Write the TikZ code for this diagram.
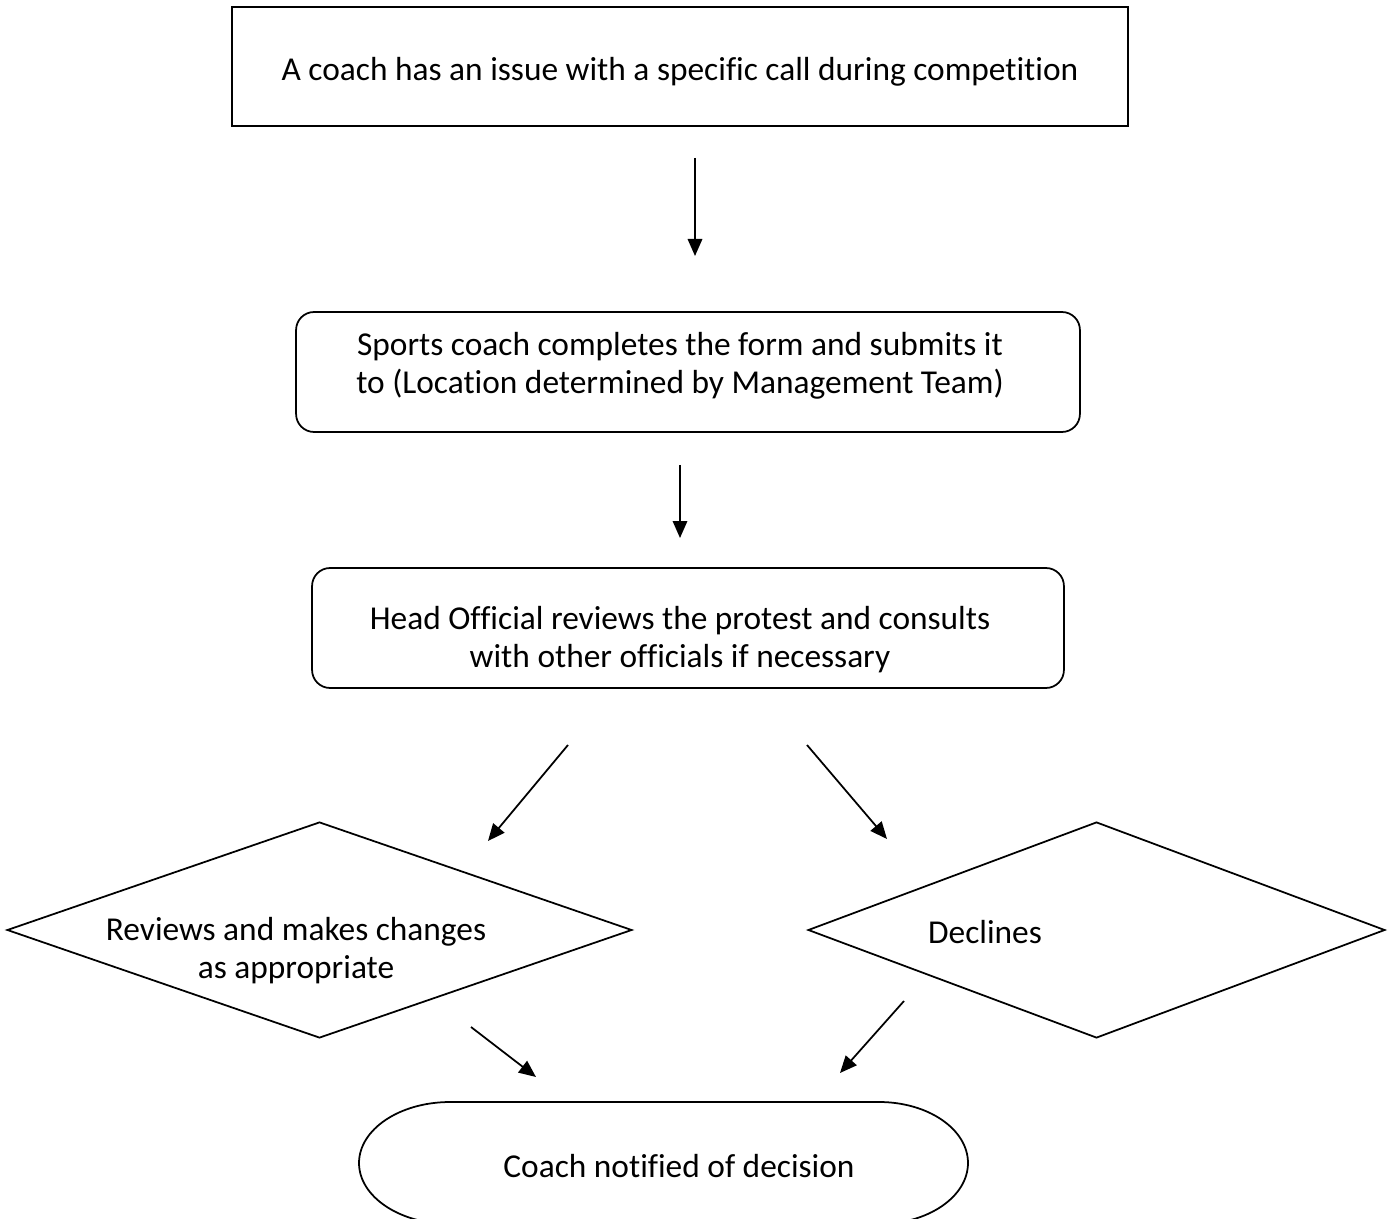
\documentclass[tikz,border=0pt]{standalone}
\usepackage{fontspec}
\setmainfont{Carlito}[Ligatures=NoCommon]
\usetikzlibrary{shapes.geometric,arrows.meta}
\begin{document}
\begin{tikzpicture}[x=0.02cm,y=-0.02cm,
  shapeline/.style={draw=black,line width=1pt,inner sep=0pt},
  txt/.style={font=\fontsize{19}{21.6}\selectfont,align=center,inner sep=0pt},
  arr/.style={line width=1pt,-{Triangle[length=0.34cm,width=0.29cm]}}]
\useasboundingbox (0,0) rectangle (1393,1219);
% shapes
\node[shapeline,rectangle,minimum width=17.92cm,minimum height=2.38cm] (b1) at (680,66.5) {};
\node[shapeline,rectangle,rounded corners=0.36cm,minimum width=15.68cm,minimum height=2.4cm] (b2) at (688,372) {};
\node[shapeline,rectangle,rounded corners=0.36cm,minimum width=15.04cm,minimum height=2.4cm] (b3) at (688,628) {};
\node[shapeline,diamond,minimum width=12.5cm,minimum height=4.32cm] (d1) at (319.5,930) {};
\node[shapeline,diamond,minimum width=11.54cm,minimum height=4.32cm] (d2) at (1096.5,930) {};
\node[inner sep=0pt,minimum width=12.18cm,minimum height=2.44cm] (e1) at (664,1163) {};
\draw[line width=1pt] (450,1102) -- (879,1102)
  arc[start angle=90,end angle=-90,x radius=1.78cm,y radius=1.22cm]
  -- (450,1224)
  arc[start angle=270,end angle=90,x radius=1.82cm,y radius=1.22cm] -- cycle;
% texts
\node[txt] (t1) at (680,72) {A coach has an issue with a specific call during competition};
\node[txt] (t2) at (680,366) {Sports coach completes the form and submits it\\to (Location determined by Management Team)};
\node[txt] (t3) at (680,639.5) {Head Official reviews the protest and consults\\with other officials if necessary};
\node[txt] (t4) at (296,951) {Reviews and makes changes\\as appropriate};
\node[txt] (t5) at (985,932) {Declines};
\node[txt] (t6) at (679,1166) {Coach notified of decision};
% arrows
\coordinate (a1s) at (695,158); \coordinate (a1e) at (695,256);
\coordinate (a2s) at (680,465); \coordinate (a2e) at (680,538);
\coordinate (a3s) at (568,745); \coordinate (a3e) at (488,841);
\coordinate (a4s) at (807,745); \coordinate (a4e) at (887,839);
\coordinate (a5s) at (471,1027); \coordinate (a5e) at (536,1077);
\coordinate (a6s) at (904,1001); \coordinate (a6e) at (840,1073);
\draw[arr] (a1s) -- (a1e);
\draw[arr] (a2s) -- (a2e);
\draw[arr] (a3s) -- (a3e);
\draw[arr] (a4s) -- (a4e);
\draw[arr] (a5s) -- (a5e);
\draw[arr] (a6s) -- (a6e);
\end{tikzpicture}
\end{document}
